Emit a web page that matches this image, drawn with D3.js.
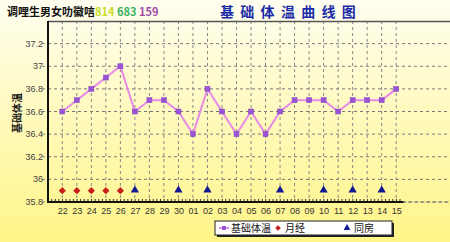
<!DOCTYPE html>
<html>
<head>
<meta charset="utf-8">
<script src="https://cdn.jsdelivr.net/npm/d3@7"></script>
<style>
  html, body { margin: 0; padding: 0; background: #fff; }
  svg { display: block; }
  text { font-family: "Noto Sans CJK SC", "DejaVu Sans", sans-serif; }
</style>
</head>
<body>
<svg id="chart" width="450" height="242"></svg>
<script>
// Days of the cycle (day-of-month labels)
const days = ["22","23","24","25","26","27","28","29","30","01","02","03","04","05","06","07","08","09","10","11","12","13","14","15"];
// Basal body temperature per day (°C)
const temps = [36.6,36.7,36.8,36.9,37.0,36.6,36.7,36.7,36.6,36.4,36.8,36.6,36.4,36.6,36.4,36.6,36.7,36.7,36.7,36.6,36.7,36.7,36.7,36.8];
// Menstruation days and intercourse days
const mensesDays = ["22","23","24","25","26"];
const intercourseDays = ["27","30","02","07","10","12","14"];
const markerLevel = 35.9;
const yTicks = [35.8,36.0,36.2,36.4,36.6,36.8,37.0,37.2];
const yTickLabels = ["35.8","36","36.2","36.4","36.6","36.8","37","37.2"];

(function () {
const svg = d3.select("#chart");
const W = 450, H = 242;
const pLeft = 48, pTop = 21, pBottom = 202, pRight = 450;

// background gradient
const defs = svg.append("defs");
const grad = defs.append("linearGradient").attr("id","bg").attr("x1",0).attr("y1",0).attr("x2",0).attr("y2",1);
grad.append("stop").attr("offset","0%").attr("stop-color","#fffef0");
grad.append("stop").attr("offset","45%").attr("stop-color","#fffac0");
grad.append("stop").attr("offset","100%").attr("stop-color","#fff588");
svg.append("rect").attr("width",W).attr("height",H).attr("fill","url(#bg)");

const x = d3.scalePoint().domain(days).range([62.3, 396.2]);
const y = d3.scaleLinear().domain([35.8, 37.4]).range([pBottom, pTop]);

// horizontal grid
svg.append("g").selectAll("line").data(yTicks).join("line")
  .attr("x1", pLeft - 6).attr("x2", pRight)
  .attr("y1", d => y(d)).attr("y2", d => y(d))
  .attr("stroke", "#777").attr("stroke-width", 1).attr("stroke-dasharray", "3,3");

// vertical grid
svg.append("g").selectAll("line").data(days).join("line")
  .attr("x1", d => x(d)).attr("x2", d => x(d))
  .attr("y1", pTop).attr("y2", pBottom)
  .attr("stroke", "#888").attr("stroke-width", 1).attr("stroke-dasharray", "3,3");

// top border
svg.append("line").attr("x1", pLeft).attr("x2", pRight).attr("y1", pTop + 0.5).attr("y2", pTop + 0.5)
  .attr("stroke", "#555").attr("stroke-width", 1.5);

// y axis tick labels
svg.append("g").selectAll("text").data(yTicks).join("text")
  .attr("x", 43).attr("y", d => y(d) + 3)
  .attr("text-anchor", "end")
  .attr("font-size", 9).attr("fill", "#444")
  .style("font-family", "Arial, 'Liberation Sans', sans-serif")
  .text((d, i) => yTickLabels[i]);

// y axis title
svg.append("text")
  .attr("transform", "translate(21,113) rotate(-90)")
  .attr("text-anchor", "middle")
  .attr("font-size", 10).attr("font-weight", "bold").attr("fill", "#222")
  .text("基础体温");

// x axis
const step = x.step();
const xEnd = x(days[days.length - 1]) + step / 2;
svg.append("line").attr("x1", xEnd).attr("x2", pRight).attr("y1", pBottom).attr("y2", pBottom)
  .attr("stroke", "#666").attr("stroke-dasharray", "3,3");
const minor = d3.range(pLeft, xEnd, step / 4);
svg.append("g").selectAll("line").data(minor).join("line")
  .attr("x1", d => d).attr("x2", d => d).attr("y1", pBottom).attr("y2", pBottom - 3)
  .attr("stroke", "#333").attr("stroke-width", 1);
svg.append("line").attr("x1", pLeft).attr("x2", xEnd).attr("y1", pBottom).attr("y2", pBottom)
  .attr("stroke", "#111").attr("stroke-width", 2);

const xAxis = svg.append("g").attr("transform", `translate(0,${pBottom})`)
  .call(d3.axisBottom(x).tickSize(0).tickPadding(6));
xAxis.select(".domain").remove();
xAxis.selectAll("text").attr("font-size", 9).attr("fill", "#333")
  .style("font-family", "Arial, 'Liberation Sans', sans-serif");

// left axis line
svg.append("line").attr("x1", pLeft).attr("x2", pLeft).attr("y1", pTop).attr("y2", pBottom + 1)
  .attr("stroke", "#111").attr("stroke-width", 2);

// temperature line
const line = d3.line().x((d, i) => x(days[i])).y(d => y(d));
svg.append("path").datum(temps).attr("d", line)
  .attr("fill", "none").attr("stroke", "#e88be8").attr("stroke-width", 2);
svg.append("g").selectAll("rect").data(temps).join("rect")
  .attr("x", (d, i) => x(days[i]) - 2.5).attr("y", d => y(d) - 2.5)
  .attr("width", 5).attr("height", 5)
  .attr("fill", "#9a55d6").attr("stroke", "#8040c0").attr("stroke-width", 0.5);

// menstruation markers (square turned 45°)
const diamond = d3.symbol().type(d3.symbolSquare).size(26);
svg.append("g").selectAll("path").data(mensesDays).join("path")
  .attr("transform", d => `translate(${x(d)},${y(markerLevel)}) rotate(45)`)
  .attr("d", diamond).attr("fill", "#c81e1e");

// intercourse markers
const tri = d3.symbol().type(d3.symbolTriangle).size(30);
svg.append("g").selectAll("path").data(intercourseDays).join("path")
  .attr("transform", d => `translate(${x(d)},${y(markerLevel) - 0.5})`)
  .attr("d", tri).attr("fill", "#101890");

// header text
const head = svg.append("text").attr("x", 7).attr("y", 16).attr("font-size", 11).attr("font-weight", "bold");
head.append("tspan").attr("fill", "#111").text("调哩生男女叻徽唁");
head.append("tspan").attr("fill", "#c8dc28").text("814 ");
head.append("tspan").attr("fill", "#38b060").text("683 ");
head.append("tspan").attr("fill", "#a04aa8").text("159");

svg.append("text").attr("x", 220).attr("y", 17)
  .attr("font-size", 14).attr("font-weight", "bold").attr("fill", "#1c2ca8")
  .attr("letter-spacing", "6.3px")
  .text("基础体温曲线图");

// legend
const lg = svg.append("g").attr("transform", "translate(215,221)");
lg.append("rect").attr("x", 2).attr("y", 2).attr("width", 177).attr("height", 14).attr("fill", "#222");
lg.append("rect").attr("x", 0).attr("y", 0).attr("width", 177).attr("height", 14)
  .attr("fill", "#fff").attr("stroke", "#222").attr("stroke-width", 1);
lg.append("line").attr("x1", 4).attr("x2", 14).attr("y1", 7).attr("y2", 7).attr("stroke", "#e88be8").attr("stroke-width", 2);
lg.append("rect").attr("x", 7).attr("y", 5).attr("width", 4).attr("height", 4).attr("fill", "#9a55d6");
lg.append("text").attr("x", 16).attr("y", 11).attr("font-size", 10).attr("fill", "#111").text("基础体温");
lg.append("path").attr("transform", "translate(63,7) rotate(45)").attr("d", d3.symbol().type(d3.symbolSquare).size(16)).attr("fill", "#c81e1e");
lg.append("text").attr("x", 70).attr("y", 11).attr("font-size", 10).attr("fill", "#111").text("月经");
lg.append("path").attr("transform", "translate(132,7)").attr("d", d3.symbol().type(d3.symbolTriangle).size(20)).attr("fill", "#101890");
lg.append("text").attr("x", 139).attr("y", 11).attr("font-size", 10).attr("fill", "#111").text("同房");
})();
</script>
</body>
</html>
